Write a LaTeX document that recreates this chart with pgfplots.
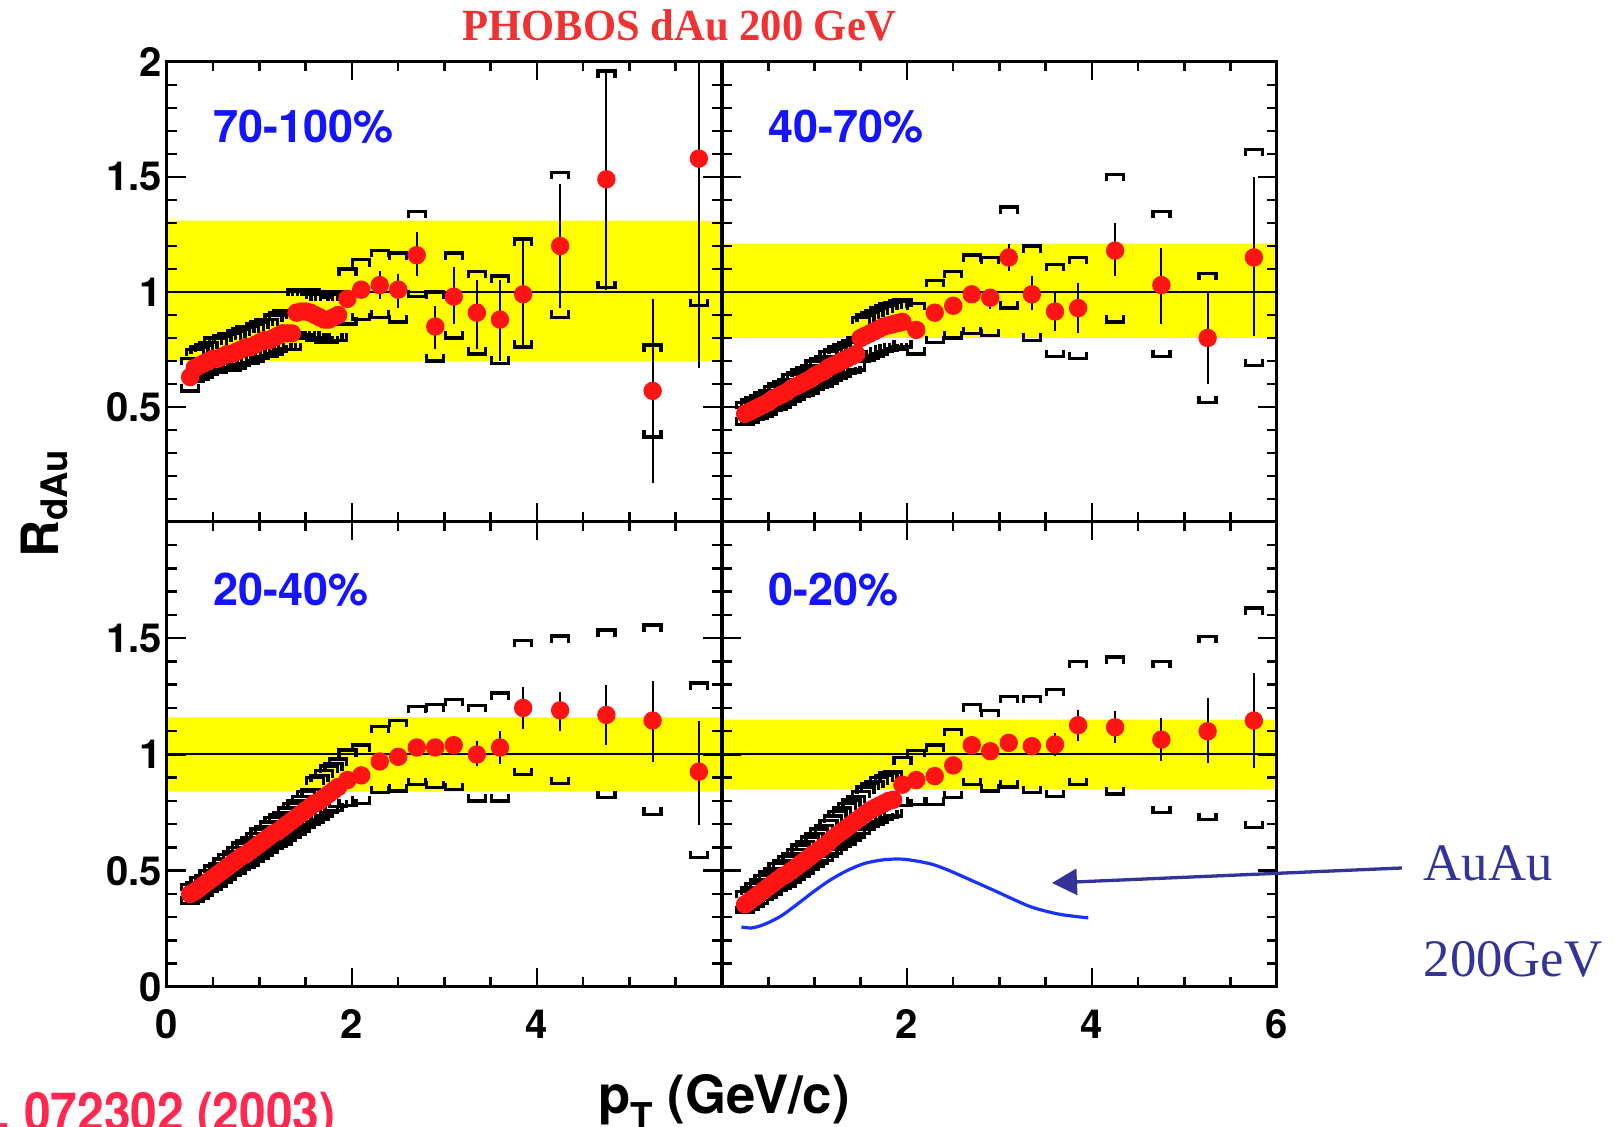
\documentclass[border=0pt]{standalone}
\usepackage{pgfplots}
\pgfplotsset{compat=1.18}
\usepackage{pgfplotstable}
\usepackage{graphicx}
\usepackage{fontspec}
\setmainfont{Liberation Serif}
\setsansfont{TeX Gyre Heros}
\usetikzlibrary{arrows.meta}

\definecolor{bandyellow}{RGB}{255,255,0}
\definecolor{dotred}{RGB}{255,20,20}
\definecolor{labblue}{RGB}{20,20,255}
\definecolor{curveblue}{RGB}{25,50,255}
\definecolor{annblue}{RGB}{51,51,153}
\definecolor{titlered}{RGB}{240,50,50}
\definecolor{citered}{RGB}{255,40,80}

\pgfdeclareplotmark{bup}{%
  \pgfpathmoveto{\pgfqpoint{-\pgfplotmarksize}{-0.8\pgfplotmarksize}}%
  \pgfpathlineto{\pgfqpoint{-\pgfplotmarksize}{0pt}}%
  \pgfpathlineto{\pgfqpoint{\pgfplotmarksize}{0pt}}%
  \pgfpathlineto{\pgfqpoint{\pgfplotmarksize}{-0.8\pgfplotmarksize}}%
  \pgfusepathqstroke}
\pgfdeclareplotmark{bdn}{%
  \pgfpathmoveto{\pgfqpoint{-\pgfplotmarksize}{0.8\pgfplotmarksize}}%
  \pgfpathlineto{\pgfqpoint{-\pgfplotmarksize}{0pt}}%
  \pgfpathlineto{\pgfqpoint{\pgfplotmarksize}{0pt}}%
  \pgfpathlineto{\pgfqpoint{\pgfplotmarksize}{0.8\pgfplotmarksize}}%
  \pgfusepathqstroke}

% columns: pT, R, stat+, stat-, sys upper, sys lower
\pgfplotstableread{
x y ep em up lo
0.25 0.63 0 0 0.71 0.57
0.30 0.67 0 0 0.75 0.61
0.35 0.68 0 0 0.76 0.62
0.40 0.69 0 0 0.77 0.63
0.45 0.70 0 0 0.78 0.64
0.50 0.71 0 0 0.80 0.65
0.55 0.71 0 0 0.80 0.65
0.60 0.72 0 0 0.81 0.66
0.65 0.73 0 0 0.82 0.66
0.70 0.73 0 0 0.82 0.66
0.75 0.74 0 0 0.83 0.67
0.80 0.75 0 0 0.84 0.68
0.85 0.76 0 0 0.85 0.69
0.90 0.76 0 0 0.85 0.69
0.95 0.77 0 0 0.86 0.70
1.00 0.78 0 0 0.87 0.71
1.05 0.79 0 0 0.88 0.72
1.10 0.79 0 0 0.88 0.72
1.15 0.80 0 0 0.90 0.73
1.20 0.81 0 0 0.91 0.74
1.25 0.82 0 0 0.92 0.75
1.30 0.82 0 0 0.92 0.75
1.35 0.82 0 0 0.92 0.75
1.40 0.91 0 0 1.01 0.80
1.45 0.915 0 0 1.01 0.80
1.50 0.915 0 0 1.01 0.80
1.55 0.91 0 0 1.01 0.80
1.60 0.90 0 0 1.00 0.79
1.65 0.89 0 0 0.99 0.79
1.70 0.88 0 0 0.99 0.78
1.75 0.88 0 0 0.99 0.78
1.80 0.89 0 0 1.00 0.79
1.85 0.90 0 0 1.00 0.79
1.95 0.97 0.03 0.03 1.10 0.86
2.10 1.01 0.03 0.03 1.14 0.88
2.30 1.03 0.06 0.06 1.18 0.89
2.50 1.01 0.07 0.08 1.17 0.87
2.70 1.16 0.10 0.09 1.35 0.98
2.90 0.85 0.09 0.10 1.00 0.70
3.10 0.98 0.13 0.12 1.17 0.80
3.35 0.91 0.14 0.16 1.09 0.73
3.60 0.88 0.17 0.18 1.07 0.69
3.85 0.99 0.23 0.22 1.23 0.76
4.25 1.20 0.27 0.27 1.52 0.89
4.75 1.49 0.46 0.48 1.96 1.02
5.25 0.57 0.40 0.40 0.77 0.37
5.75 1.58 0.42 0.91 nan 0.94
}\tabA

\pgfplotstableread{
x y ep em up lo
0.25 0.47 0 0 0.52 0.425
0.30 0.48 0 0 0.53 0.435
0.35 0.49 0 0 0.54 0.445
0.40 0.50 0 0 0.55 0.45
0.45 0.51 0 0 0.56 0.46
0.50 0.52 0 0 0.57 0.47
0.55 0.535 0 0 0.59 0.485
0.60 0.545 0 0 0.60 0.49
0.65 0.555 0 0 0.61 0.50
0.70 0.565 0 0 0.62 0.51
0.75 0.58 0 0 0.64 0.525
0.80 0.59 0 0 0.65 0.535
0.85 0.60 0 0 0.66 0.545
0.90 0.61 0 0 0.67 0.55
0.95 0.62 0 0 0.68 0.56
1.00 0.635 0 0 0.70 0.575
1.05 0.645 0 0 0.71 0.585
1.10 0.655 0 0 0.72 0.59
1.15 0.67 0 0 0.74 0.605
1.20 0.68 0 0 0.75 0.615
1.25 0.69 0 0 0.76 0.625
1.30 0.70 0 0 0.77 0.635
1.35 0.71 0 0 0.78 0.645
1.40 0.72 0 0 0.79 0.65
1.45 0.73 0 0 0.80 0.66
1.50 0.80 0 0 0.89 0.70
1.55 0.81 0 0 0.90 0.705
1.60 0.82 0 0 0.91 0.71
1.65 0.83 0 0 0.92 0.72
1.70 0.84 0 0 0.93 0.73
1.75 0.85 0 0 0.94 0.74
1.80 0.855 0 0 0.95 0.745
1.85 0.86 0 0 0.955 0.75
1.90 0.865 0 0 0.96 0.75
1.95 0.87 0 0 0.965 0.76
2.10 0.835 0.03 0.03 0.95 0.73
2.30 0.91 0.03 0.03 1.05 0.78
2.50 0.94 0.04 0.04 1.09 0.80
2.70 0.99 0.035 0.035 1.16 0.82
2.90 0.975 0.04 0.05 1.15 0.81
3.10 1.15 0.06 0.06 1.37 0.93
3.35 0.99 0.08 0.07 1.20 0.79
3.60 0.915 0.085 0.085 1.12 0.72
3.85 0.93 0.11 0.11 1.15 0.71
4.25 1.18 0.12 0.11 1.51 0.87
4.75 1.03 0.16 0.17 1.35 0.72
5.25 0.80 0.20 0.20 1.08 0.52
5.75 1.15 0.35 0.34 1.62 0.68
}\tabB

\pgfplotstableread{
x y ep em up lo
0.25 0.40 0 0 0.44 0.36
0.30 0.41 0 0 0.45 0.37
0.35 0.425 0 0 0.47 0.38
0.40 0.44 0 0 0.48 0.395
0.45 0.455 0 0 0.50 0.41
0.50 0.47 0 0 0.52 0.42
0.55 0.485 0 0 0.53 0.435
0.60 0.50 0 0 0.55 0.45
0.65 0.515 0 0 0.57 0.465
0.70 0.53 0 0 0.58 0.48
0.75 0.545 0 0 0.60 0.49
0.80 0.56 0 0 0.62 0.505
0.85 0.57 0 0 0.63 0.515
0.90 0.585 0 0 0.64 0.525
0.95 0.60 0 0 0.66 0.54
1.00 0.615 0 0 0.68 0.555
1.05 0.63 0 0 0.69 0.565
1.10 0.645 0 0 0.71 0.58
1.15 0.66 0 0 0.73 0.595
1.20 0.67 0 0 0.74 0.605
1.25 0.685 0 0 0.75 0.615
1.30 0.70 0 0 0.77 0.63
1.35 0.715 0 0 0.79 0.645
1.40 0.73 0 0 0.80 0.655
1.45 0.745 0 0 0.82 0.67
1.50 0.76 0 0 0.84 0.685
1.55 0.775 0 0 0.85 0.70
1.60 0.79 0 0 0.90 0.71
1.65 0.80 0 0 0.91 0.72
1.70 0.815 0 0 0.93 0.735
1.75 0.83 0 0 0.95 0.75
1.80 0.845 0 0 0.96 0.76
1.85 0.86 0 0 0.98 0.775
1.95 0.89 0.02 0.02 1.02 0.78
2.10 0.91 0.02 0.02 1.04 0.79
2.30 0.97 0.02 0.02 1.12 0.836
2.50 0.99 0.03 0.03 1.146 0.843
2.70 1.03 0.03 0.03 1.207 0.871
2.90 1.03 0.03 0.03 1.214 0.857
3.10 1.04 0.04 0.04 1.236 0.85
3.35 1.00 0.057 0.05 1.21 0.80
3.60 1.03 0.07 0.07 1.264 0.80
3.85 1.20 0.09 0.09 1.49 0.914
4.25 1.19 0.08 0.09 1.51 0.874
4.75 1.17 0.13 0.13 1.536 0.814
5.25 1.146 0.17 0.18 1.557 0.743
5.75 0.926 0.22 0.23 1.307 0.557
}\tabC

\pgfplotstableread{
x y ep em up lo
0.25 0.355 0 0 0.41 0.32
0.30 0.37 0 0 0.425 0.335
0.35 0.385 0 0 0.445 0.345
0.40 0.40 0 0 0.46 0.36
0.45 0.415 0 0 0.48 0.375
0.50 0.43 0 0 0.495 0.385
0.55 0.445 0 0 0.51 0.40
0.60 0.46 0 0 0.53 0.415
0.65 0.475 0 0 0.545 0.425
0.70 0.485 0 0 0.56 0.435
0.75 0.50 0 0 0.575 0.45
0.80 0.515 0 0 0.59 0.465
0.85 0.53 0 0 0.61 0.475
0.90 0.545 0 0 0.625 0.49
0.95 0.56 0 0 0.645 0.505
1.00 0.575 0 0 0.66 0.52
1.05 0.59 0 0 0.68 0.53
1.10 0.605 0 0 0.695 0.545
1.15 0.62 0 0 0.715 0.56
1.20 0.64 0 0 0.735 0.575
1.25 0.655 0 0 0.755 0.59
1.30 0.67 0 0 0.77 0.605
1.35 0.685 0 0 0.79 0.615
1.40 0.70 0 0 0.805 0.63
1.45 0.715 0 0 0.82 0.645
1.50 0.73 0 0 0.84 0.66
1.55 0.745 0 0 0.86 0.68
1.60 0.76 0 0 0.875 0.69
1.65 0.77 0 0 0.885 0.70
1.70 0.78 0 0 0.90 0.71
1.75 0.79 0 0 0.91 0.72
1.80 0.80 0 0 0.92 0.73
1.85 0.805 0 0 0.925 0.735
1.95 0.87 0.02 0.02 0.986 0.78
2.10 0.89 0.02 0.02 1.017 0.786
2.30 0.907 0.02 0.02 1.04 0.786
2.50 0.953 0.02 0.02 1.107 0.814
2.70 1.04 0.025 0.025 1.214 0.871
2.90 1.014 0.025 0.025 1.19 0.843
3.10 1.05 0.03 0.03 1.25 0.86
3.35 1.036 0.04 0.04 1.25 0.836
3.60 1.043 0.05 0.05 1.28 0.82
3.85 1.126 0.064 0.066 1.40 0.871
4.25 1.117 0.069 0.067 1.42 0.83
4.75 1.064 0.093 0.094 1.40 0.75
5.25 1.10 0.143 0.136 1.507 0.72
5.75 1.146 0.204 0.206 1.63 0.686
}\tabD

\pgfplotsset{
  panel/.style={
    scale only axis, width=55.5mm,
    xmin=0, xmax=6, ymin=0, ymax=2,
    xtick={0,2,4,6}, ytick={0,0.5,1,1.5,2},
    minor x tick num=3, minor y tick num=4,
    tick align=inside, xtick pos=both, ytick pos=both,
    major tick length=1.85mm, minor tick length=0.95mm,
    axis line style={line width=0.3mm, black},
    tick style={line width=0.25mm, black},
    axis on top,
    ticklabel style={font=\fontsize{11.4}{13}\selectfont\sffamily\bfseries, inner sep=0pt},
    xticklabel style={yshift=-2.2mm},
    yticklabel style={xshift=-0.45mm},
    xticklabels={}, yticklabels={},
  },
}
\tikzset{
  panellab/.style={anchor=west, inner sep=0pt, text=labblue,
    font=\fontsize{12.8}{14}\selectfont\sffamily\bfseries},
}

\newcommand{\band}[2]{%
  \addplot[fill=bandyellow, draw=none] coordinates {(0,#1) (6,#1) (6,#2) (0,#2) (0,#1)};
  \addplot[black, line width=0.2mm] coordinates {(0,1) (6,1)};
}
\newcommand{\points}[1]{%
  \addplot[only marks, mark=bup, mark size=0.85mm, mark options={line width=0.34mm, draw=black}] table[x=x, y=up] {#1};
  \addplot[only marks, mark=bdn, mark size=0.85mm, mark options={line width=0.34mm, draw=black}] table[x=x, y=lo] {#1};
  \addplot[black, only marks, mark=none,
    error bars/.cd, y dir=both, y explicit, error mark=none,
    error bar style={line width=0.2mm, black}]
    table[x=x, y=y, y error plus=ep, y error minus=em] {#1};
  \addplot[only marks, mark=*, mark size=0.85mm, mark options={draw=dotred, fill=dotred}] table[x=x, y=y] {#1};
}

\begin{document}
\begin{tikzpicture}
\useasboundingbox (0,0) rectangle (161.5mm,112.7mm);

% top-left: 70-100%
\begin{axis}[panel, at={(16.7mm,60.5mm)}, anchor=south west, height=46mm,
  yticklabels={{},0.5,1,1.5,2}]
  \band{0.70}{1.31}
  \points{\tabA}
  \node[panellab] at (axis cs:0.5,1.72) {70-100\%};
\end{axis}

% top-right: 40-70%
\begin{axis}[panel, at={(72.2mm,60.5mm)}, anchor=south west, height=46mm]
  \band{0.80}{1.21}
  \points{\tabB}
  \node[panellab] at (axis cs:0.5,1.72) {40-70\%};
\end{axis}

% bottom-left: 20-40%
\begin{axis}[panel, at={(16.7mm,14mm)}, anchor=south west, height=46.5mm,
  xticklabels={0,2,4,{}}, yticklabels={0,0.5,1,1.5,{}}]
  \band{0.84}{1.16}
  \points{\tabC}
  \node[panellab] at (axis cs:0.5,1.71) {20-40\%};
\end{axis}

% bottom-right: 0-20%
\begin{axis}[panel, at={(72.2mm,14mm)}, anchor=south west, height=46.5mm,
  xticklabels={{},2,4,6}]
  \band{0.85}{1.15}
  \points{\tabD}
  \addplot[curveblue, line width=0.32mm, smooth] coordinates {
    (0.21,0.258) (0.32,0.254) (0.45,0.268) (0.63,0.303) (0.81,0.355) (0.99,0.41)
    (1.17,0.46) (1.35,0.50) (1.53,0.53) (1.71,0.545) (1.85,0.55) (2.00,0.548)
    (2.25,0.53) (2.43,0.505) (2.61,0.474) (2.79,0.442) (2.97,0.41) (3.15,0.377)
    (3.33,0.346) (3.51,0.325) (3.69,0.31) (3.96,0.297)};
  \node[panellab] at (axis cs:0.5,1.71) {0-20\%};
\end{axis}

% texts around the panels
\node[anchor=base west, inner sep=0pt, text=titlered] at (46.2mm,108.6mm)
  {\resizebox{43.4mm}{3.09mm}{\bfseries PHOBOS dAu 200 GeV}};
\node[rotate=90, anchor=base, inner sep=0pt,
  font=\fontsize{14.6}{16}\selectfont\sffamily\bfseries] at (5.8mm,62.3mm)
  {R\raisebox{-0.35ex}{\fontsize{10.4}{12}\selectfont dAu}};
\node[anchor=base, inner sep=0pt,
  font=\fontsize{15}{17}\selectfont\sffamily\bfseries] at (72.4mm,1.35mm)
  {p\raisebox{-0.55ex}{\fontsize{10.5}{12}\selectfont T} (GeV/c)};
\node[anchor=base west, inner sep=0pt, text=citered] at (-0.3mm,-0.5mm)
  {\scalebox{1}[1.13]{\fontsize{13.6}{15}\selectfont\sffamily\bfseries , 072302 (2003)}};
\node[anchor=base west, inner sep=0pt, text=annblue,
  font=\fontsize{15}{17}\selectfont\rmfamily] at (142.3mm,24.6mm) {AuAu};
\node[anchor=base west, inner sep=0pt, text=annblue,
  font=\fontsize{15}{17}\selectfont\rmfamily] at (142.3mm,15.0mm) {200GeV};
\draw[annblue, line width=0.33mm, -{Triangle[length=2.5mm,width=2.6mm]}]
  (140.2mm,25.9mm) -- (105.2mm,24.4mm);
\end{tikzpicture}
\end{document}
